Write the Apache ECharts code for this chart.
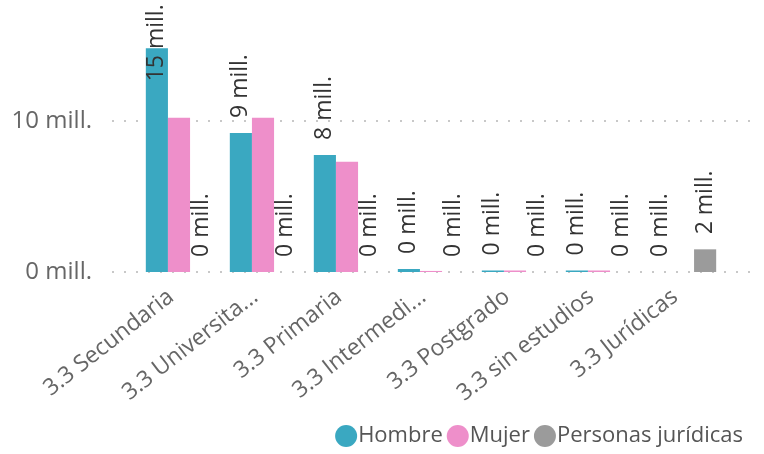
<!DOCTYPE html>
<html>
<head>
<meta charset="utf-8">
<script src="https://cdn.jsdelivr.net/npm/echarts@6/dist/echarts.min.js"></script>
<style>
  html, body { margin: 0; padding: 0; background: #fff; }
  #main { width: 764px; height: 454px; }
</style>
</head>
<body>
<div id="main"></div>
<script>
var categories = ['3.3 Secundaria', '3.3 Universita...', '3.3 Primaria', '3.3 Intermedi...', '3.3 Postgrado', '3.3 sin estudios', '3.3 Jurídicas'];
var hombre = [14.8, 9.2, 7.75, 0.2, 0.1, 0.1, 0];
var mujer = [10.2, 10.2, 7.3, 0.07, 0.1, 0.1, 0];
var juridicas = [0, 0, 0, 0, 0, 0, 1.5];
var yTicks = [0, 10];

var font = "'Open Sans', 'Noto Sans', sans-serif";
var dom = document.getElementById('main');
var myChart = echarts.init(dom);

function fmt(p) {
  return Math.round(p.value) + ' mill.';
}

var labelBase = {
  show: true,
  position: 'top',
  rotate: 90,
  align: 'left',
  verticalAlign: 'middle',
  distance: 15,
  fontSize: 23,
  color: '#333',
  fontFamily: font,
  formatter: fmt
};

// la primera etiqueta no cabe arriba, se baja sobre la barra
var hombreData = hombre.map(function (v, i) {
  if (i === 0) {
    return { value: v, label: { offset: [-48, 0] } };
  }
  return v;
});

option = {
  animation: false,
  color: ['#3AA8C1', '#EE8FCA', '#9B9B9B'],
  legend: {
    right: 16,
    bottom: 2,
    icon: 'circle',
    itemWidth: 22,
    itemHeight: 22,
    itemGap: 4,
    textStyle: { fontSize: 22, color: '#555', fontFamily: font, padding: [0, 0, 0, -4] },
    data: ['Hombre', 'Mujer', 'Personas jurídicas']
  },
  grid: [
    { left: 137, right: 39, top: 0, bottom: 182 },
    { left: 112, right: 14, top: 0, bottom: 182 }
  ],
  xAxis: [{
    type: 'category',
    gridIndex: 0,
    data: categories,
    axisLine: { show: false },
    axisTick: { show: false },
    axisLabel: {
      rotate: 38,
      margin: 16,
      padding: [0, 10, 0, 0],
      fontSize: 23,
      color: '#666',
      fontFamily: font,
      interval: 0
    }
  }, {
    type: 'value',
    gridIndex: 1,
    show: false
  }],
  yAxis: [{
    type: 'value',
    gridIndex: 0,
    min: 0,
    max: 18,
    interval: 10,
    show: false
  }, {
    type: 'value',
    gridIndex: 1,
    min: 0,
    max: 18,
    interval: 10,
    axisLine: { show: false },
    axisTick: { show: false },
    axisLabel: {
      margin: 20,
      fontSize: 24,
      color: '#666',
      fontFamily: font,
      showMaxLabel: false,
      formatter: function (v) {
        return yTicks.indexOf(v) >= 0 ? v + ' mill.' : '';
      }
    },
    splitLine: {
      showMaxLine: false,
      lineStyle: { color: '#C8C8C8', type: [2, 10], width: 2 }
    }
  }],
  series: [{
    name: 'Hombre',
    type: 'bar',
    barGap: '0%',
    barCategoryGap: '21%',
    data: hombreData,
    label: labelBase
  }, {
    name: 'Mujer',
    type: 'bar',
    data: mujer
  }, {
    name: 'Personas jurídicas',
    type: 'bar',
    data: juridicas,
    label: labelBase
  }]
};
if (option && typeof option === 'object') {
  myChart.setOption(option, true);
}
</script>
</body>
</html>
